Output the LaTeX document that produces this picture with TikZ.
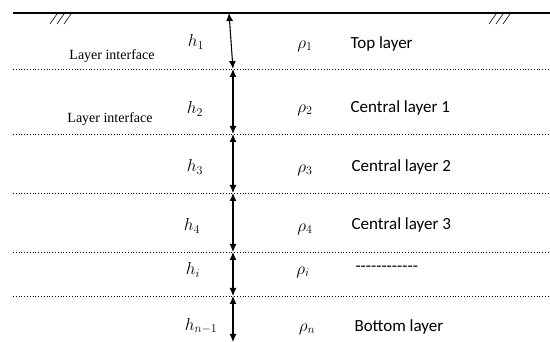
\documentclass[tikz,border=0pt]{standalone}
\usepackage{amssymb,amsmath}
\usepackage{fontspec}
\setmainfont{Liberation Serif}
\newfontfamily\layerfont{Carlito}
\usetikzlibrary{arrows.meta}

\begin{document}
\begin{tikzpicture}[x=1pt,y=-1pt,
    interface/.style={line width=0.8pt,dash pattern=on 1pt off 1.8pt},
    thick arrow/.style={line width=1.1pt,{Latex[length=8pt,width=7pt]}-{Latex[length=8pt,width=7pt]}},
    hlabel/.style={font=\fontsize{17}{20}\selectfont},
    rholabel/.style={font=\fontsize{17}{20}\selectfont},
    layername/.style={anchor=west,font=\layerfont\fontsize{17}{20}\selectfont},
    note/.style={font=\fontsize{14}{16}\selectfont}]

\useasboundingbox (0,0) rectangle (550,342);

% Ground surface
\draw[line width=1.1pt] (13,13) -- (550,13);
\foreach \x in {50,57,64,489,496,503}
  \draw[line width=0.6pt] (\x,24) -- (\x+7,14);

% Layer interfaces
\foreach \y in {69,134,193,252,296}
  \draw[interface] (13,\y) -- (550,\y);

% Thickness arrows
\coordinate (a0) at (229,13);
\coordinate (a1) at (233,69);
\coordinate (a2) at (233,134);
\coordinate (a3) at (233,193);
\coordinate (a4) at (233,252);
\coordinate (a5) at (233,296);
\coordinate (a6) at (233,342);
\draw[thick arrow] (a0) -- (a1);
\draw[thick arrow] (a1) -- (a2);
\draw[thick arrow] (a2) -- (a3);
\draw[thick arrow] (a3) -- (a4);
\draw[thick arrow] (a4) -- (a5);
\draw[thick arrow] (a5) -- (a6);

% Thickness labels
\node[hlabel] (h1) at (196,42) {$h_1$};
\node[hlabel] (h2) at (195,109) {$h_2$};
\node[hlabel] (h3) at (195,167) {$h_3$};
\node[hlabel] (h4) at (192,226) {$h_4$};
\node[hlabel] (hi) at (193,270) {$h_i$};
\node[hlabel] (hn) at (201,326) {$h_{n-1}$};

% Interface notes
\node[note] (int1) at (112,56) {Layer interface};
\node[note] (int2) at (110,119) {Layer interface};

% Resistivities
\node[rholabel] (r1) at (305,46) {$\rho_1$};
\node[rholabel] (r2) at (305,110) {$\rho_2$};
\node[rholabel] (r3) at (305,170) {$\rho_3$};
\node[rholabel] (r4) at (305,229) {$\rho_4$};
\node[rholabel] (ri) at (303,272) {$\rho_i$};
\node[rholabel] (rn) at (307,329) {$\rho_n$};

% Layer names
\node[layername] (l1) at (347,44) {Top layer};
\node[layername] (l2) at (347,108) {Central layer 1};
\node[layername] (l3) at (348,167) {Central layer 2};
\node[layername] (l4) at (348,225) {Central layer 3};
\node[layername] (li) at (352,269) {------------};
\node[layername] (ln) at (351,327) {Bottom layer};

\end{tikzpicture}
\end{document}
